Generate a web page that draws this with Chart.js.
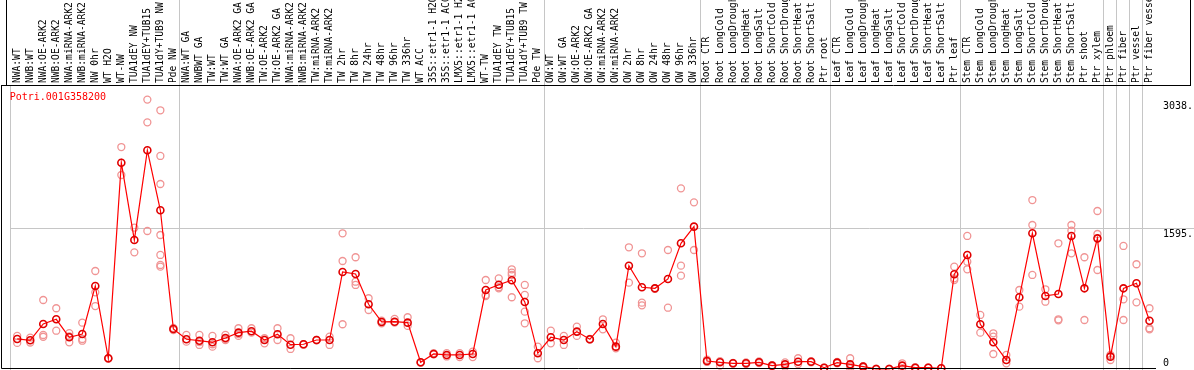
<!DOCTYPE html>
<html>
<head>
<meta charset="utf-8">
<script src="https://cdn.jsdelivr.net/npm/chart.js@4.4.1/dist/chart.umd.min.js"></script>
<style>
  html, body { margin: 0; padding: 0; background: #fff; }
  #wrap { position: relative; width: 1194px; height: 370px; }
</style>
</head>
<body>
<div id="wrap"><canvas id="exprChart"></canvas></div>
<script>
const geneId = 'Potri.001G358200';

const samples = [
  'NWA:WT', 'NWB:WT', 'NWA:OE-ARK2', 'NWB:OE-ARK2', 'NWA:miRNA-ARK2', 'NWB:miRNA-ARK2',
  'NW 0hr', 'WT H2O', 'WT-NW', 'TUA1dEY NW', 'TUA1dEY+TUB15', 'TUA1dY+TUB9 NW', 'Pde NW',
  'NWA:WT GA', 'NWBWT GA', 'TW:WT', 'TW:WT GA', 'NWA:OE-ARK2 GA', 'NWB:OE-ARK2 GA',
  'TW:OE-ARK2', 'TW:OE-ARK2 GA', 'NWA:miRNA-ARK2', 'NWB:miRNA-ARK2', 'TW:miRNA-ARK2', 'TW:miRNA-ARK2',
  'TW 2hr', 'TW 8hr', 'TW 24hr', 'TW 48hr', 'TW 96hr', 'TW 336hr', 'WT ACC',
  '35S::etr1-1 H2O', '35S::etr1-1 ACC', 'LMX5::etr1-1 H2O', 'LMX5::etr1-1 ACC',
  'WT-TW', 'TUA1dEY TW', 'TUA1dEY+TUB15', 'TUA1dY+TUB9 TW', 'Pde TW',
  'OW:WT', 'OW:WT GA', 'OW:OE-ARK2', 'OW:OE-ARK2 GA', 'OW:miRNA-ARK2', 'OW:miRNA-ARK2',
  'OW 2hr', 'OW 8hr', 'OW 24hr', 'OW 48hr', 'OW 96hr', 'OW 336hr',
  'Root CTR', 'Root LongCold', 'Root LongDrought', 'Root LongHeat', 'Root LongSalt',
  'Root ShortCold', 'Root ShortDrought', 'Root ShortHeat', 'Root ShortSalt', 'Ptr root',
  'Leaf CTR', 'Leaf LongCold', 'Leaf LongDrought', 'Leaf LongHeat', 'Leaf LongSalt',
  'Leaf ShortCold', 'Leaf ShortDrought', 'Leaf ShortHeat', 'Leaf ShortSalt', 'Ptr leaf',
  'Stem CTR', 'Stem LongCold', 'Stem LongDrought', 'Stem LongHeat', 'Stem LongSalt',
  'Stem ShortCold', 'Stem ShortDrought', 'Stem ShortHeat', 'Stem ShortSalt', 'Ptr shoot',
  'Ptr xylem', 'Ptr phloem', 'Ptr fiber', 'Ptr vessel', 'Ptr fiber vessel'
];

const meanExpr = [
  345, 330, 514, 567, 364, 401, 944, 127, 2337, 1463, 2477, 1799, 458,
  341, 325, 307, 356, 416, 432, 333, 398, 280, 285, 333, 333,
  1102, 1079, 737, 537, 540, 529, 81, 175, 164, 164, 175,
  898, 958, 1008, 763, 183,
  364, 333, 428, 341, 514, 258, 1173, 929, 917, 1023, 1426, 1614,
  96, 81, 70, 70, 81, 43, 58, 88, 88, 20,
  77, 58, 32, 6, 6, 43, 20, 20, 14, 1076,
  1294, 511, 307, 107, 816, 1539, 831, 853, 1509, 917, 1482,
  145, 917, 974, 551
];

const replicates = [
  [380, 300], [360, 305], [785, 390, 370], [692, 438], [410, 375, 307], [529, 345, 325],
  [1113, 872, 717], [127, 120], [2514, 2198], [1602, 1324], [3050, 2793, 1565],
  [2929, 2413, 2096, 1520, 1294, 1181, 1162], [470, 445],
  [390, 314], [390, 310, 277], [379, 285, 258], [390, 345, 333], [466, 400, 379], [466, 416],
  [353, 296], [466, 333], [353, 232], [285, 280], [333, 330], [371, 277],
  [1539, 1226, 511], [1268, 992, 955], [805, 672], [551, 522], [571, 529], [590, 492],
  [81, 75], [185, 170], [185, 147], [185, 140], [202, 140],
  [1011, 842, 830], [1030, 929, 917], [1132, 1094, 1068, 816], [955, 842, 653, 522], [258, 127],
  [439, 296], [379, 277], [484, 379], [345, 337], [567, 454], [303, 240],
  [1381, 981], [1313, 755, 725], [917, 910], [1350, 698], [2047, 1173, 1060], [1889, 1350],
  [110, 85], [95, 43], [75, 65], [80, 60], [90, 72], [50, 36], [80, 32], [127, 62], [95, 80], [20, 15],
  [85, 70], [127, 35, 14], [38, 25], [8, 4], [8, 4], [70, 14], [25, 15], [22, 18], [15, 12],
  [1162, 1030, 1011],
  [1509, 1218, 1132], [616, 416], [409, 371, 175], [164, 70], [898, 710], [1915, 1633, 1068],
  [906, 766], [1426, 567, 555], [1633, 1569, 1313], [1268, 559], [1791, 1531, 1124],
  [164, 107], [1396, 793, 559], [1189, 759], [692, 466, 454]
];

// index of the first sample of each block (last one = right edge)
const groupStarts = [0, 13, 41, 53, 63, 73, 84, 85, 86, 87, 88];

const yTickValues = [0, 1595, 3038];
const yTickLabels = ['0', '1595.', '3038.'];

const gridGray = '#c6c6c6';
const mono = 'DejaVu Sans Mono';
const labelSize = 9.6;

const repPoints = [];
replicates.forEach((reps, i) => {
  reps.forEach(v => repPoints.push({ x: i, y: v }));
});

const framePlugin = {
  id: 'frame',
  afterDraw(chart) {
    const { ctx, chartArea } = chart;
    const w = chart.width;
    const top = chartArea.top + 0.5;
    ctx.save();
    ctx.strokeStyle = '#000';
    ctx.lineWidth = 1;
    ctx.beginPath();
    ctx.moveTo(6.5, 0);
    ctx.lineTo(6.5, top);
    ctx.moveTo(w - 3.5, 0);
    ctx.lineTo(w - 3.5, top);
    ctx.moveTo(1, top);
    ctx.lineTo(w - 3, top);
    ctx.moveTo(1.5, top);
    ctx.lineTo(1.5, chart.height - 1.5);
    ctx.lineTo(chartArea.right, chart.height - 1.5);
    ctx.stroke();

    ctx.fillStyle = '#ff0000';
    ctx.font = '10px "' + mono + '"';
    ctx.textBaseline = 'middle';
    ctx.textAlign = 'left';
    ctx.fillText(geneId, chartArea.left - 1, chartArea.top + 12);
    ctx.restore();
  }
};

new Chart(document.getElementById('exprChart'), {
  type: 'line',
  data: {
    labels: samples,
    datasets: [
      {
        label: geneId,
        data: meanExpr,
        borderColor: '#ff0000',
        borderWidth: 1.2,
        pointRadius: 3.5,
        pointBorderWidth: 1.6,
        pointBorderColor: '#e00000',
        pointBackgroundColor: 'rgba(0,0,0,0)',
        tension: 0
      },
      {
        label: 'replicates',
        data: repPoints,
        xAxisID: 'xr',
        showLine: false,
        pointRadius: 3.5,
        pointBorderWidth: 1.3,
        pointBorderColor: '#f09494',
        pointBackgroundColor: 'rgba(0,0,0,0)'
      }
    ]
  },
  options: {
    responsive: true,
    maintainAspectRatio: false,
    animation: false,
    layout: {
      autoPadding: false,
      padding: { left: 10.7, right: 0, top: 0, bottom: 0 }
    },
    plugins: {
      legend: { display: false },
      tooltip: { enabled: false }
    },
    scales: {
      x: {
        type: 'category',
        position: 'top',
        offset: true,
        afterFit: s => { s.height = 85; },
        border: { display: false },
        grid: {
          offset: true,
          tickLength: 85,
          color: c => groupStarts.includes(c.index) ? gridGray : 'rgba(0,0,0,0)',
          tickColor: c => c.index > 0 && groupStarts.includes(c.index) ? gridGray : 'rgba(0,0,0,0)'
        },
        ticks: {
          autoSkip: false,
          minRotation: 90,
          maxRotation: 90,
          padding: -83,
          labelOffset: labelSize * 1.2,
          color: '#000',
          font: { family: mono, size: labelSize }
        }
      },
      xr: {
        type: 'linear',
        display: false,
        min: -0.5,
        max: samples.length - 0.5
      },
      y: {
        position: 'right',
        min: -6,
        max: 3215,
        afterBuildTicks: s => { s.ticks = yTickValues.map(v => ({ value: v })); },
        afterFit: s => { s.width = 38; },
        border: { display: false },
        grid: {
          tickLength: 38,
          color: c => c.tick && c.tick.value === 1595 ? gridGray : 'rgba(0,0,0,0)',
          tickColor: c => c.tick && c.tick.value === 1595 ? gridGray : 'rgba(0,0,0,0)'
        },
        ticks: {
          padding: -31,
          color: '#000',
          font: { family: mono, size: 10 },
          callback: value => {
            const i = yTickValues.indexOf(value);
            return i === 0 ? [yTickLabels[i], ''] : ['', yTickLabels[i]];
          }
        }
      }
    }
  },
  plugins: [framePlugin]
});
</script>
</body>
</html>
